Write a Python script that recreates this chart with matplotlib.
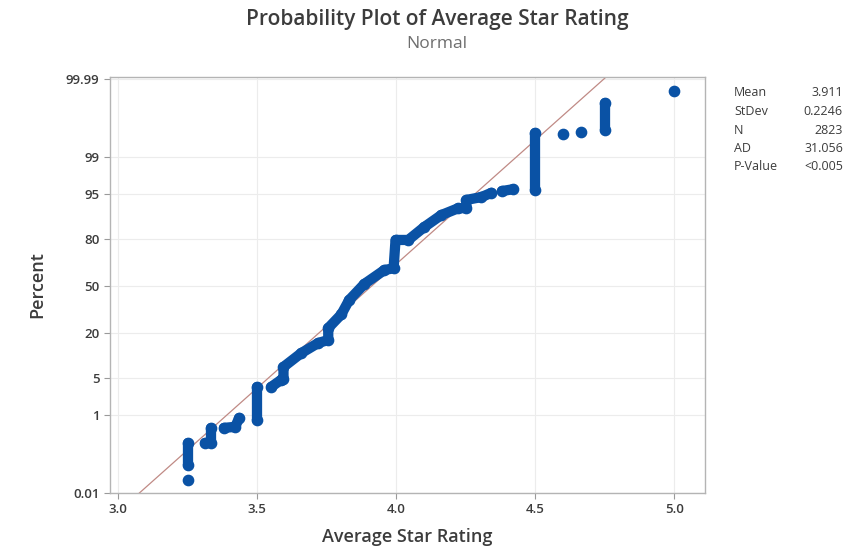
import matplotlib
matplotlib.use("Agg")
import matplotlib.pyplot as plt
from statistics import NormalDist

plt.rcParams['font.family'] = ['Open Sans', 'DejaVu Sans']

# summary stats shown in the side box
mean = 3.911
stdev = 0.2246
stat_names = ['Mean', 'StDev', 'N', 'AD', 'P-Value']
stat_values = ['3.911', '0.2246', '2823', '31.056', '<0.005']

# y tick percents
pct_ticks = [0.01, 1, 5, 20, 50, 80, 95, 99, 99.99]
pct_labels = ['0.01', '1', '5', '20', '50', '80', '95', '99', '99.99']
x_ticks = [3.0, 3.5, 4.0, 4.5, 5.0]

# plotted points, in rank order
# run = which touching group a point belongs to (ties give vertical stacks)
rating = [3.25,
          3.25, 3.25,
          3.31, 3.333, 3.333,
          3.38, 3.42, 3.435,
          3.5, 3.5,
          3.55, 3.586, 3.594, 3.594, 3.658, 3.719, 3.755, 3.755, 3.802, 3.83,
          3.885, 3.957, 3.99, 3.997, 4.043, 4.1, 4.162, 4.223, 4.252, 4.252,
          4.306, 4.342,
          4.38, 4.42,
          4.5, 4.5,
          4.6,
          4.665,
          4.75, 4.75,
          5.0]
percent = [0.025,
           0.066, 0.24,
           0.24, 0.24, 0.54,
           0.54, 0.57, 0.89,
           0.81, 3.5,
           3.5, 4.6, 4.8, 7.3, 11.4, 15.3, 16.6, 22.5, 30.5, 40,
           51.5, 61.3, 62.5, 79.6, 79.6, 85.5, 89.9, 91.9, 91.9, 93.9,
           94.5, 95.3,
           95.6, 95.9,
           95.8, 99.70,
           99.68,
           99.72,
           99.745, 99.949,
           99.977]
run = [0,
       1, 1,
       2, 2, 2,
       3, 3, 3,
       4, 4,
       5, 5, 5, 5, 5, 5, 5, 5, 5, 5,
       5, 5, 5, 5, 5, 5, 5, 5, 5, 5,
       5, 5,
       6, 6,
       7, 7,
       8,
       9,
       10, 10,
       11]

nd = NormalDist()


def z(p):
    return nd.inv_cdf(p / 100.0)


blue = '#0a52a5'
grey_text = '#3c3c3c'

fig = plt.figure(figsize=(8.54, 5.56), dpi=100)
ax = fig.add_axes([0.1288, 0.1133, 0.6967, 0.7482])

# grid
for t in x_ticks:
    ax.axvline(t, color='#ececec', lw=0.8, zorder=0)
for p in pct_ticks:
    ax.axhline(z(p), color='#ececec', lw=0.8, zorder=0)

# fitted normal line
xlo, xhi = 2.97, 5.11
ax.plot([xlo, xhi], [(xlo - mean) / stdev, (xhi - mean) / stdev],
        color='#c08a85', lw=0.9, zorder=2)

# data points, each touching group drawn as a thick round line
for r in sorted(set(run)):
    xs = [rating[i] for i in range(len(rating)) if run[i] == r]
    ys = [z(percent[i]) for i in range(len(rating)) if run[i] == r]
    ax.plot(xs, ys, color=blue, lw=7.4, marker='o', ms=7.4,
            solid_capstyle='round', solid_joinstyle='round', zorder=3)

ax.set_xlim(xlo, xhi)
ax.set_ylim(z(0.01), 3.755)
ax.set_xticks(x_ticks)
ax.set_xticklabels(['3.0', '3.5', '4.0', '4.5', '5.0'])
ax.set_yticks([z(p) for p in pct_ticks])
ax.set_yticklabels(pct_labels)
ax.tick_params(colors='#9a9a9a', labelcolor=grey_text, labelsize=9.5, length=4, width=0.8)
for lab in ax.get_xticklabels() + ax.get_yticklabels():
    lab.set_fontweight('semibold')
for s in ax.spines.values():
    s.set_color('#b4b4b4')
    s.set_linewidth(1.0)

ax.set_xlabel('Average Star Rating', fontsize=13, color=grey_text, fontweight='semibold', labelpad=8)
ax.set_ylabel('Percent', fontsize=13, color=grey_text, fontweight='semibold', labelpad=14)

fig.text(437 / 854, 1 - 20 / 556, 'Probability Plot of Average Star Rating', ha='center', va='center',
         fontsize=15, color=grey_text, fontweight='semibold')
fig.text(437 / 854, 1 - 44 / 556, 'Normal', ha='center', va='center', fontsize=12.5, color='#6e6e6e')

for i, (name, val) in enumerate(zip(stat_names, stat_values)):
    yy = 1 - (93 + i * 18.5) / 556
    fig.text(734 / 854, yy, name, ha='left', va='center', fontsize=9, color=grey_text)
    fig.text(843 / 854, yy, val, ha='right', va='center', fontsize=9, color=grey_text)

fig.savefig('out.png', dpi=100)
